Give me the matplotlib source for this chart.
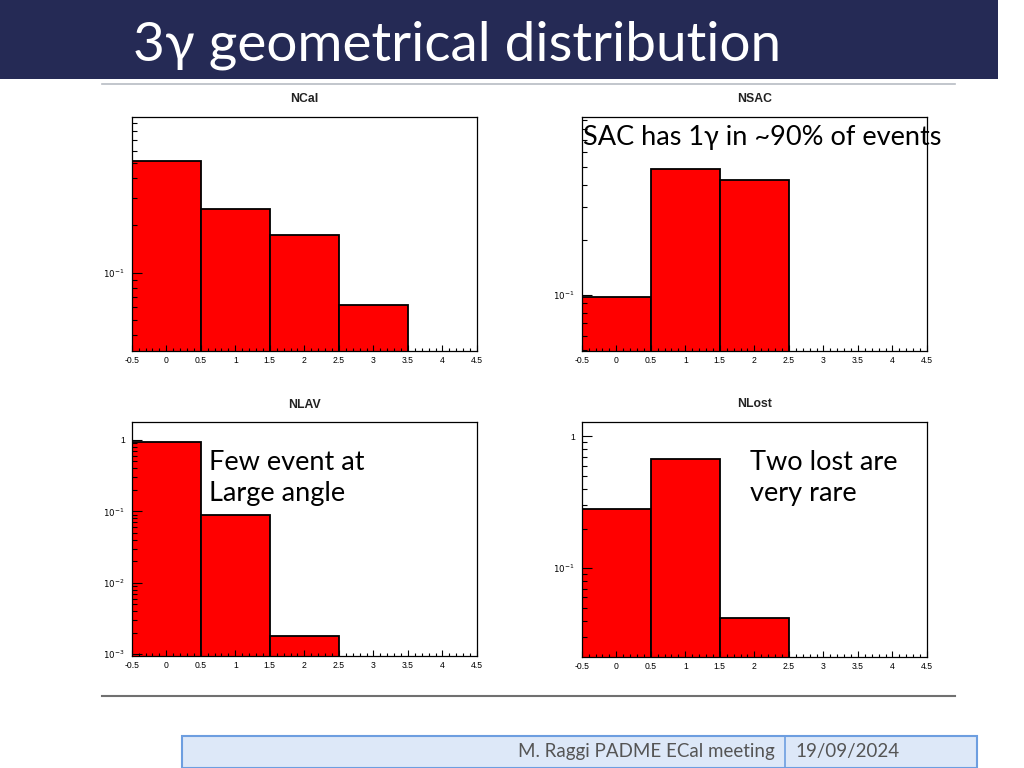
import matplotlib
matplotlib.use("Agg")
import matplotlib.pyplot as plt
from matplotlib.ticker import FixedLocator, FuncFormatter, MultipleLocator, NullFormatter
from matplotlib.patches import Rectangle
import numpy as np

# ---------------- data ----------------
bin_edges = [-0.5, 0.5, 1.5, 2.5, 3.5, 4.5]
ncal_vals = [0.516, 0.255, 0.174, 0.0622, 0.0]
nsac_vals = [0.0975, 0.487, 0.421, 0.0, 0.0]
nlav_vals = [0.93, 0.089, 0.0018, 0.0, 0.0]
nlost_vals = [0.282, 0.676, 0.0417, 0.0, 0.0]
titles = ["NCal", "NSAC", "NLAV", "NLost"]
ylims = [(0.0317, 0.98), (0.0497, 0.93), (0.000948, 1.77), (0.0213, 1.28)]

slide_title = "3\u03b3 geometrical distribution"
footer_left = "M. Raggi PADME ECal meeting"
footer_right = "19/09/2024"

W, H = 1024, 768
fig = plt.figure(figsize=(W / 100, H / 100), dpi=100)
fig.patch.set_facecolor("white")

def px_axes(l, t, r, b):
    return fig.add_axes([l / W, 1 - b / H, (r - l) / W, (b - t) / H])

# header band
fig.patches.append(Rectangle((0, 1 - 79 / H), 998 / W, 79 / H, transform=fig.transFigure,
                             facecolor="#252a55", edgecolor="none"))
fig.text(133 / W, 1 - 45 / H, slide_title, color="white", fontsize=39.5,
         family=["Lato", "DejaVu Sans"], weight="normal", va="center", ha="left")
# thin grey lines
fig.lines.append(plt.Line2D([102 / W, 955 / W], [1 - 83.5 / H] * 2, transform=fig.transFigure,
                            color="#b8bcc4", lw=1.2))
fig.lines.append(plt.Line2D([102 / W, 955 / W], [1 - 696 / H] * 2, transform=fig.transFigure,
                            color="#707070", lw=1.5))

# footer
fig.patches.append(Rectangle((182 / W, 0), (977 - 182) / W, 32 / H, transform=fig.transFigure,
                             facecolor="#dde8f8", edgecolor="#6d9ee0", lw=1.5))
fig.lines.append(plt.Line2D([785 / W] * 2, [0, 32 / H], transform=fig.transFigure,
                            color="#6d9ee0", lw=1.2))
fig.text(775 / W, 1 - 752 / H, footer_left, color="#555555", fontsize=13.5,
         family=["Lato", "DejaVu Sans"], va="center", ha="right")
fig.text(795 / W, 1 - 752 / H, footer_right, color="#555555", fontsize=13.5,
         family=["Lato", "DejaVu Sans"], va="center", ha="left")

boxes = [(131.7, 117.3, 477, 350.7), (581.7, 117.3, 927, 350.7),
         (131.7, 422.3, 477, 655.7), (581.7, 422.3, 927, 656.7)]
title_y = [99, 99, 405, 404]
series = [ncal_vals, nsac_vals, nlav_vals, nlost_vals]

def yfmt(v, pos):
    e = int(round(np.log10(v)))
    if e == 0:
        return "1"
    return r"$10^{%d}$" % e

decades = np.arange(-5, 2)
major_locs = [10.0 ** d for d in decades]
minor_locs = [s * 10.0 ** d for d in decades for s in range(2, 10)]

for (l, t, r, b), ttl, ty, vals, yl in zip(boxes, titles, title_y, series, ylims):
    ax = px_axes(l, t, r, b)
    ax.set_axisbelow(False)
    lefts = [e for e, v in zip(bin_edges[:-1], vals) if v > 0]
    hs = [v for v in vals if v > 0]
    ax.set_yscale("log")
    ax.bar(lefts, hs, width=1.0, align="edge", color="#ff0000",
           edgecolor="black", linewidth=1.3, zorder=1)
    ax.set_ylim(*yl)
    ax.set_xlim(bin_edges[0], bin_edges[-1])
    ax.xaxis.set_major_locator(MultipleLocator(0.5))
    ax.xaxis.set_minor_locator(MultipleLocator(0.1))
    ax.xaxis.set_major_formatter(FuncFormatter(lambda v, p: "%g" % v))
    ax.yaxis.set_major_locator(FixedLocator(major_locs))
    ax.yaxis.set_minor_locator(FixedLocator(minor_locs))
    ax.yaxis.set_major_formatter(FuncFormatter(yfmt))
    ax.yaxis.set_minor_formatter(NullFormatter())
    ax.tick_params(axis="x", which="major", direction="in", length=4.5, width=0.8,
                   labelsize=6.2, pad=4)
    ax.tick_params(axis="x", which="minor", direction="in", length=2.2, width=0.8)
    ax.tick_params(axis="y", which="major", direction="in", length=7.5, width=0.8,
                   labelsize=6.2, pad=5)
    ax.tick_params(axis="y", which="minor", direction="in", length=3.8, width=0.8)
    for s in ax.spines.values():
        s.set_linewidth(0.9)
    for lab in ax.get_xticklabels() + ax.get_yticklabels():
        lab.set_family("Liberation Sans")
    fig.text((l + r) / 2 / W, 1 - ty / H, ttl, ha="center", va="center", fontsize=8.8,
             weight="bold", family="Liberation Sans", color="#222222")

ann_font = ["Lato", "DejaVu Sans"]
fs = 19.5
fig.text(583 / W, 1 - 137 / H, "SAC has 1\u03b3 in ~90% of events", fontsize=fs,
         family=ann_font, va="center", ha="left", color="black")
fig.text(209 / W, 1 - 463 / H, "Few event at", fontsize=fs, family=ann_font,
         va="center", ha="left")
fig.text(209 / W, 1 - 494 / H, "Large angle", fontsize=fs, family=ann_font,
         va="center", ha="left")
fig.text(750 / W, 1 - 463 / H, "Two lost are", fontsize=fs, family=ann_font,
         va="center", ha="left")
fig.text(750 / W, 1 - 494 / H, "very rare", fontsize=fs, family=ann_font,
         va="center", ha="left")

fig.savefig("out.png", dpi=100)
